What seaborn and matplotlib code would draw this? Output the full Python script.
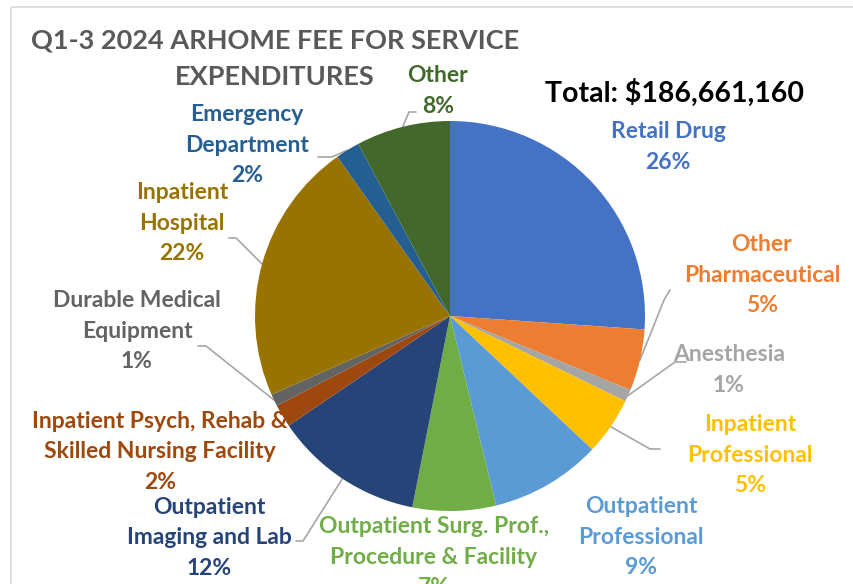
import matplotlib
matplotlib.use("Agg")
import matplotlib.pyplot as plt
import numpy as np
import seaborn as sns

# slices, clockwise from 12 o'clock (share of total, %)
categories = ["Retail Drug", "Other\nPharmaceutical", "Anesthesia", "Inpatient\nProfessional",
              "Outpatient\nProfessional", "Outpatient Surg. Prof.,\nProcedure & Facility",
              "Outpatient\nImaging and Lab", "Inpatient Psych, Rehab &\nSkilled Nursing Facility",
              "Durable Medical\nEquipment", "Inpatient\nHospital", "Emergency\nDepartment", "Other"]
shares = [26.1, 5.1, 1.0, 4.8, 9.2, 6.9, 12.4, 1.9, 1.0, 21.8, 2.0, 7.8]
colors = ["#4472C4", "#ED7D31", "#A5A5A5", "#FFC000", "#5B9BD5", "#70AD47",
          "#264478", "#9E480E", "#636363", "#997300", "#255E91", "#43682B"]
total_label = "Total: $186,661,160"
title = "Q1-3 2024 ARHOME FEE FOR SERVICE\nEXPENDITURES"

sns.set_theme(style="white")
plt.rcParams['font.family'] = ['Lato', 'DejaVu Sans']

W, H = 854, 584
fig = plt.figure(figsize=(W / 100, H / 100), dpi=100)
ax = fig.add_axes([0, 0, 1, 1])

cx, cy, r = 450, 316, 195
wedges, _ = ax.pie(shares, colors=colors, startangle=-90, counterclock=True,
                   center=(cx, cy), radius=r, frame=True,
                   wedgeprops=dict(linewidth=0))
ax.set_xlim(0, W)
ax.set_ylim(H, 0)   # pixel coords, origin top-left
ax.set_aspect("equal")
ax.axis("off")

# label centres and leader lines (elbow, end) in pixels
label_pos = [(668, 147), (762, 275), (729, 370), (750, 455), (641, 537), (434, 557),
             (209, 538), (160, 452), (137, 331), (182, 223), (247, 145), (438, 91)]
leaders = [None, [(664, 300), (670, 290)], [(675, 362), (686, 362)], [(650, 449), (660, 449)],
           None, None, [(303, 541), (296, 541)], None, [(206, 346), (198, 346)],
           [(236, 238), (229, 238)], [(332, 157), (318, 157)], [(409, 112), (416, 112)]]

for w, lab, val, col, pos, ld in zip(wedges, categories, shares, colors, label_pos, leaders):
    ax.text(pos[0], pos[1], f"{lab}\n{round(val):.0f}%", ha="center", va="center",
            color=col, fontsize=16.5, fontweight="bold", linespacing=1.55)
    if ld is not None:
        mid = np.deg2rad((w.theta1 + w.theta2) / 2)
        ex, ey = cx + r * np.cos(mid), cy + r * np.sin(mid)
        xs = [ex] + [p[0] for p in ld]
        ys = [ey] + [p[1] for p in ld]
        ax.plot(xs, ys, color="#A6A6A6", lw=1.2, zorder=0.5)

ax.text(275, 59, title, ha="center", va="center", color="#595959",
        fontsize=19.5, fontweight="bold", linespacing=1.6)
ax.text(675, 93, total_label, ha="center", va="center", color="black",
        fontsize=20.5, fontweight="bold")

# chart border
ax.add_patch(plt.Rectangle((11, 7), 900, 650, fill=False, edgecolor="#D9D9D9", lw=1.2))

fig.savefig("out.png", dpi=100)
